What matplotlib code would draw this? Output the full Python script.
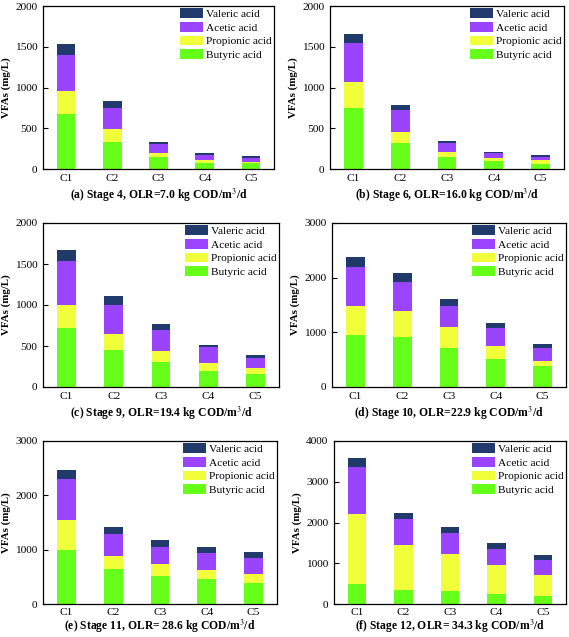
import matplotlib
matplotlib.use("Agg")
import matplotlib.pyplot as plt
import numpy as np

plt.rcParams['font.family'] = ['Liberation Serif', 'DejaVu Serif']
plt.rcParams['mathtext.fontset'] = 'stix'

categories = ["C1", "C2", "C3", "C4", "C5"]
series_names = ["Butyric acid", "Propionic acid", "Acetic acid", "Valeric acid"]
colors = ["#66FF1A", "#F0FF3A", "#9A44FF", "#1F3A6B"]

titles = [
    r"(a) Stage 4, OLR=7.0 kg COD/m$^{3}$/d",
    r"(b) Stage 6, OLR=16.0 kg COD/m$^{3}$/d",
    r"(c) Stage 9, OLR=19.4 kg COD/m$^{3}$/d",
    r"(d) Stage 10, OLR=22.9 kg COD/m$^{3}$/d",
    r"(e) Stage 11, OLR= 28.6 kg COD/m$^{3}$/d",
    r"(f) Stage 12, OLR= 34.3 kg COD/m$^{3}$/d",
]

# cumulative tops: butyric, +propionic, +acetic, +valeric
a_tops = [[677, 335, 143, 78, 69], [955, 490, 200, 114, 86],
          [1404, 751, 310, 176, 139], [1539, 833, 335, 196, 155]]
b_tops = [[747, 322, 151, 98, 65], [1065, 457, 208, 131, 110],
          [1547, 722, 314, 192, 151], [1653, 788, 339, 212, 171]]
c_tops = [[714, 457, 306, 196, 155], [1004, 649, 441, 298, 229],
          [1531, 1000, 698, 482, 355], [1665, 1106, 767, 518, 388]]
d_tops = [[949, 906, 716, 514, 386], [1482, 1396, 1090, 741, 478],
          [2192, 1929, 1482, 1084, 722], [2370, 2094, 1610, 1163, 778]]
e_tops = [[994, 640, 518, 457, 384], [1549, 878, 732, 634, 555],
          [2305, 1280, 1049, 933, 854], [2470, 1421, 1183, 1049, 951]]
f_tops = [[496, 333, 309, 244, 203], [2220, 1455, 1228, 959, 715],
          [3366, 2081, 1740, 1350, 1073], [3585, 2236, 1894, 1496, 1211]]

all_tops = [a_tops, b_tops, c_tops, d_tops, e_tops, f_tops]
ymaxes = [2000, 2000, 2000, 3000, 3000, 4000]
ysteps = [500, 500, 500, 1000, 1000, 1000]

W, H = 569, 637
fig = plt.figure(figsize=(W / 100, H / 100), dpi=100)

# axes boxes in pixels: left, right, top, bottom
boxes = [
    (43, 274, 6, 169), (330, 564, 6, 169),
    (43, 279, 223, 387), (332, 566, 223, 387),
    (43, 277, 441, 604), (334, 566, 441, 604),
]
xlabel_pads = [2.5, 2.5, 2.5, 2.5, 0.5, 0.5]

for i, (l, r, t, b) in enumerate(boxes):
    ax = fig.add_axes([l / W, 1 - b / H, (r - l) / W, (b - t) / H])
    tops = np.array(all_tops[i], dtype=float)
    x = np.arange(len(categories))
    bottom = np.zeros(len(categories))
    handles = []
    for k in range(4):
        h = tops[k] - bottom
        bars = ax.bar(x, h, width=0.4, bottom=bottom, color=colors[k],
                      edgecolor='none', label=series_names[k])
        handles.append(bars)
        bottom = tops[k]
    ax.set_xlim(-0.5, 4.5)
    ax.set_ylim(0, ymaxes[i])
    ax.set_yticks(np.arange(0, ymaxes[i] + 1, ysteps[i]))
    ax.set_xticks(x)
    ax.set_xticklabels(categories)
    ax.tick_params(axis='x', length=0, labelsize=8.2, pad=3.5 if i < 4 else 3)
    ax.tick_params(axis='y', direction='in', length=3.5, width=0.8, labelsize=8.2, pad=4)
    for s in ax.spines.values():
        s.set_linewidth(0.9)
        s.set_color('black')
    ax.set_ylabel("VFAs (mg/L)", fontsize=7.8, fontweight='bold', labelpad=3)
    ax.set_xlabel(titles[i], fontsize=8.4, fontweight='bold', labelpad=xlabel_pads[i])
    leg = ax.legend(handles[::-1], series_names[::-1], loc='upper right',
                    frameon=False, fontsize=8.2, handlelength=2.0,
                    handleheight=0.95, labelspacing=0.25, handletextpad=0.25,
                    borderaxespad=0.1, borderpad=0.1)

fig.savefig("out.png", dpi=100)
